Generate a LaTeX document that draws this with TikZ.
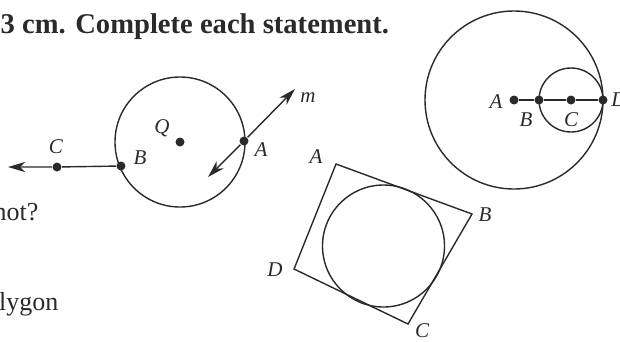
\documentclass[tikz,border=0pt]{standalone}
\usepackage{fontspec}
\setmainfont{Liberation Serif}
\definecolor{INKdark}{HTML}{2A2A2A}
\usetikzlibrary{arrows.meta, positioning}

\begin{document}
\begin{tikzpicture}[x=1pt, y=-1pt, line width=1.4pt, INKdark,
      dot/.style={circle, fill=INKdark, inner sep=0pt, minimum size=9pt},
      lbl/.style={font=\fontsize{21}{21}\selectfont\itshape, inner sep=0pt},
      txt/.style={font=\fontsize{26}{26}\selectfont, inner sep=0pt},
      ray/.style={-{Stealth[length=17pt, width=10pt, inset=5pt]}}]
   \useasboundingbox (0,0) rectangle (620,341);
   % Heading and cut-off words
   \node[anchor=base west, inner sep=0pt, font=\fontsize{28.6}{28.6}\selectfont\bfseries] (head) at (0,33) {3 cm. Complete each statement.};
   \node[txt, anchor=base east] (not) at (39,220) {not?};
   \node[txt, anchor=base east] (lygon) at (59,310) {lygon};
   % Circle Q with ray BC and line m
   \draw (180,142) circle (65pt);
   \node[dot] (Q) at (180,142) {};
   \node[lbl] (Qlbl) at (162,128) {Q};
   \node[dot] (B) at (121,166) {};
   \node[lbl] (Blbl) at (140,158) {B};
   \node[dot] (C) at (57,167) {};
   \node[lbl] (Clbl) at (56,147) {C};
   \coordinate (Cend) at (8,167);
   \draw[ray] (B) -- (C) -- (Cend);
   \node[dot] (A) at (244,141) {};
   \node[lbl] (Albl) at (261,150) {A};
   \coordinate (mtip) at (295,89);
   \coordinate (mtail) at (208,177);
   \draw[ray] (A) -- (mtip);
   \draw[ray] (A) -- (mtail);
   \node[lbl] (mlbl) at (308,98) {m};
   % Quadrilateral around a circle
   \coordinate (qA) at (336,164);
   \coordinate (qB) at (472,214);
   \coordinate (qC) at (408,324);
   \coordinate (qD) at (294,269);
   \draw[line join=miter] (qA) -- (qB) -- (qC) -- (qD) -- cycle;
   \draw (383.5,246) circle (61pt);
   \node[lbl] (qAlbl) at (316,157) {A};
   \node[lbl] (qBlbl) at (485,215) {B};
   \node[lbl] (qClbl) at (422,331) {C};
   \node[lbl] (qDlbl) at (275,270) {D};
   % Two circles, one inside the other
   \node[dot] (rA) at (514,100) {};
   \node[dot] (rB) at (539,100) {};
   \node[dot] (rC) at (571,100) {};
   \node[dot] (rD) at (603,100) {};
   \draw (rA.center) circle (89pt);
   \draw (rC.center) circle (32pt);
   \draw (rA) -- (rB) -- (rC) -- (rD);
   \node[lbl] (rAlbl) at (496,102) {A};
   \node[lbl] (rBlbl) at (526,120) {B};
   \node[lbl] (rClbl) at (571,120) {C};
   \node[lbl] (rDlbl) at (619,100) {D};
\end{tikzpicture}
\end{document}
